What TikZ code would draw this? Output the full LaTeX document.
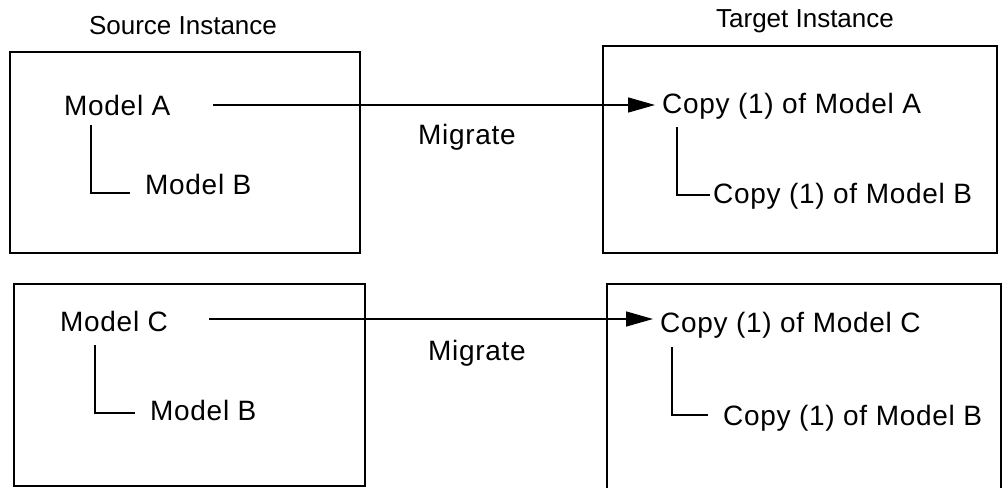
\documentclass[tikz,border=0pt]{standalone}
\usepackage{fontspec}
\setmainfont{Liberation Sans}
\newfontfamily\lblfont{Liberation Sans}[LetterSpace=2.5]
\usetikzlibrary{arrows.meta}
\begin{document}
\begin{tikzpicture}[x=1pt,y=-1pt,
  frame/.style={draw=black,line width=1.6pt},
  lbl/.style={inner sep=0pt,anchor=base west,font=\lblfont\fontsize{28}{32}\selectfont},
  title/.style={inner sep=0pt,anchor=base,font=\fontsize{26}{30}\selectfont},
  link/.style={line width=1.5pt},
  migrate/.style={line width=1.5pt,-{Triangle[length=27pt,width=15pt]},shorten >=7pt}]
\useasboundingbox (0,0) rectangle (1003,487);

% instance frames
\draw[frame] (10,52) rectangle (360,253);
\draw[frame] (603,46) rectangle (997,253);
\draw[frame] (14,284) rectangle (365,486);
\draw[frame] (607,284) rectangle (1001,492);

% column titles
\node[title] (src) at (183,35) {Source Instance};
\node[title] (tgt) at (805,28) {Target Instance};

% upper pair
\node[lbl] (ma)  at (64,115)  {Model A};
\node[lbl] (mb1) at (145,194) {Model B};
\node[lbl] (ca)  at (662,113) {Copy (1) of Model A};
\node[lbl] (cb1) at (713,203) {Copy (1) of Model B};
\node[lbl] (mig1) at (418,144) {Migrate};

% lower pair
\node[lbl] (mc)  at (60,331)  {Model C};
\node[lbl] (mb2) at (150,420) {Model B};
\node[lbl] (cc)  at (660,332) {Copy (1) of Model C};
\node[lbl] (cb2) at (723,425) {Copy (1) of Model B};
\node[lbl] (mig2) at (428,360) {Migrate};

% connector end points
\coordinate (a-out) at (213,105);
\coordinate (c-out) at (209,319);
\coordinate (ta1) at (91,125);   \coordinate (tb1) at (130,193);
\coordinate (ua1) at (677,127);  \coordinate (ub1) at (710,195);
\coordinate (ta2) at (95,345);   \coordinate (tb2) at (135,413);
\coordinate (ua2) at (672,347);  \coordinate (ub2) at (708,415);

% migration arrows
\draw[migrate] (a-out) -- (a-out -| ca.west);
\draw[migrate] (c-out) -- (c-out -| cc.west);

% parent/child tree lines
\draw[link] (ta1) |- (tb1);
\draw[link] (ua1) |- (ub1);
\draw[link] (ta2) |- (tb2);
\draw[link] (ua2) |- (ub2);
\end{tikzpicture}
\end{document}
